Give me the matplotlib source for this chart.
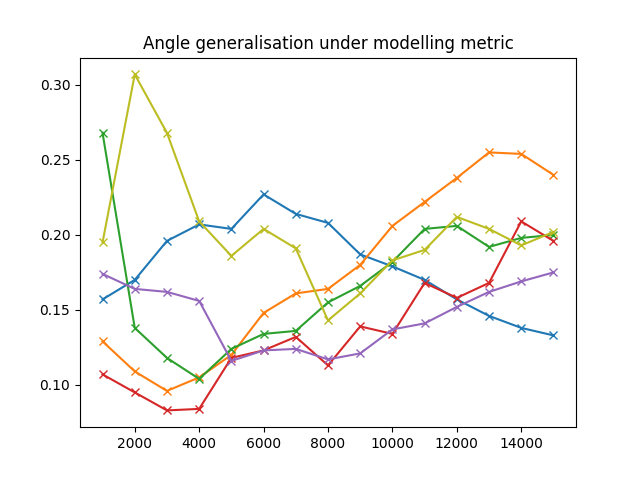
import matplotlib
matplotlib.use("Agg")
import matplotlib.pyplot as plt

steps = [1000, 2000, 3000, 4000, 5000, 6000, 7000, 8000, 9000, 10000, 11000, 12000, 13000, 14000, 15000]
blue = [0.157, 0.170, 0.196, 0.207, 0.204, 0.227, 0.214, 0.208, 0.187, 0.179, 0.170, 0.157, 0.146, 0.138, 0.133]
orange = [0.129, 0.109, 0.096, 0.105, 0.120, 0.148, 0.161, 0.164, 0.180, 0.206, 0.222, 0.238, 0.255, 0.254, 0.240]
green = [0.268, 0.138, 0.118, 0.104, 0.124, 0.134, 0.136, 0.155, 0.166, 0.182, 0.204, 0.206, 0.192, 0.198, 0.200]
red = [0.107, 0.095, 0.083, 0.084, 0.118, 0.123, 0.132, 0.113, 0.139, 0.134, 0.168, 0.158, 0.168, 0.209, 0.196]
purple = [0.174, 0.164, 0.162, 0.156, 0.116, 0.123, 0.124, 0.117, 0.121, 0.137, 0.141, 0.152, 0.162, 0.169, 0.175]
olive = [0.195, 0.307, 0.268, 0.209, 0.186, 0.204, 0.191, 0.143, 0.161, 0.183, 0.190, 0.212, 0.204, 0.193, 0.202]

fig, ax = plt.subplots(figsize=(6.4, 4.8), dpi=100)
for vals, c in [(blue, "tab:blue"), (orange, "tab:orange"), (green, "tab:green"),
                (red, "tab:red"), (purple, "tab:purple"), (olive, "tab:olive")]:
    ax.plot(steps, vals, marker="x", color=c)
ax.set_title("Angle generalisation under modelling metric")
fig.savefig("out.png")
